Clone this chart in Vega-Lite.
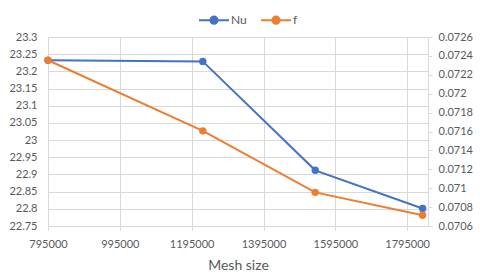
{
  "$schema": "https://vega.github.io/schema/vega-lite/v6.json",
  "autosize": "none",
  "width": 380,
  "height": 189,
  "padding": {"left": 48, "top": 37, "right": 52, "bottom": 51},
  "background": "white",
  "config": {
    "view": {"stroke": null},
    "font": "Lato",
    "axis": {"labelColor": "#595959", "titleColor": "#595959", "labelFont": "Lato", "titleFont": "Lato", "labelFontSize": 11, "gridColor": "#d9d9d9", "domainColor": "#d9d9d9", "tickColor": "#d9d9d9"},
    "legend": {"labelColor": "#595959", "labelFont": "Lato", "labelFontSize": 12}
  },
  "data": {
    "values": [
      {"series": "Nu", "mesh": 795000, "value": 23.232},
      {"series": "Nu", "mesh": 1226000, "value": 23.229},
      {"series": "Nu", "mesh": 1539000, "value": 22.912},
      {"series": "Nu", "mesh": 1838000, "value": 22.801},
      {"series": "f", "mesh": 795000, "value": 0.072354},
      {"series": "f", "mesh": 1226000, "value": 0.071607},
      {"series": "f", "mesh": 1539000, "value": 0.070956},
      {"series": "f", "mesh": 1838000, "value": 0.070713}
    ]
  },
  "encoding": {
    "x": {
      "field": "mesh", "type": "quantitative",
      "scale": {"domain": [795000, 1853000], "nice": false, "zero": false},
      "axis": {"title": "Mesh size", "titleFontSize": 14, "titleFontWeight": "normal", "titlePadding": 9, "values": [795000, 995000, 1195000, 1395000, 1595000, 1795000], "format": "d", "tickSize": 4, "labelPadding": 8, "grid": true, "labelFlush": false}
    },
    "color": {
      "field": "series", "type": "nominal",
      "scale": {"domain": ["Nu", "f"], "range": ["#4472C4", "#ED7D31"]},
      "legend": {
        "title": null, "orient": "none", "direction": "horizontal",
        "legendX": 150, "legendY": -33,
        "symbolType": "M-1,0L1,0M-0.24,0A0.24,0.24 0 1,0 0.24,0A0.24,0.24 0 1,0 -0.24,0Z",
        "symbolSize": 900, "symbolStrokeWidth": 2, "labelOffset": 1, "columnPadding": 10
      }
    }
  },
  "layer": [
    {
      "transform": [{"filter": "datum.series === 'Nu'"}],
      "encoding": {
        "y": {
          "field": "value", "type": "quantitative",
          "scale": {"domain": [22.75, 23.3], "nice": false, "zero": false},
          "axis": {"title": null, "orient": "left", "values": [22.75, 22.8, 22.85, 22.9, 22.95, 23, 23.05, 23.1, 23.15, 23.2, 23.25, 23.3], "format": ".2~f", "ticks": false, "labelPadding": 11, "grid": true, "domain": true}
        }
      },
      "layer": [
        {"mark": {"type": "line", "strokeWidth": 2}},
        {"mark": {"type": "point", "filled": true, "size": 55, "opacity": 1}}
      ]
    },
    {
      "transform": [{"filter": "datum.series === 'f'"}],
      "encoding": {
        "y": {
          "field": "value", "type": "quantitative",
          "scale": {"domain": [0.0706, 0.0726], "nice": false, "zero": false},
          "axis": {"title": null, "orient": "right", "values": [0.0706, 0.0708, 0.071, 0.0712, 0.0714, 0.0716, 0.0718, 0.072, 0.0722, 0.0724, 0.0726], "format": ".4~f", "ticks": true, "tickSize": 4, "labelPadding": 6, "grid": false, "domain": true}
        }
      },
      "layer": [
        {"mark": {"type": "line", "strokeWidth": 2}},
        {"mark": {"type": "point", "filled": true, "size": 55, "opacity": 1}}
      ]
    }
  ],
  "resolve": {"scale": {"y": "independent"}}
}
